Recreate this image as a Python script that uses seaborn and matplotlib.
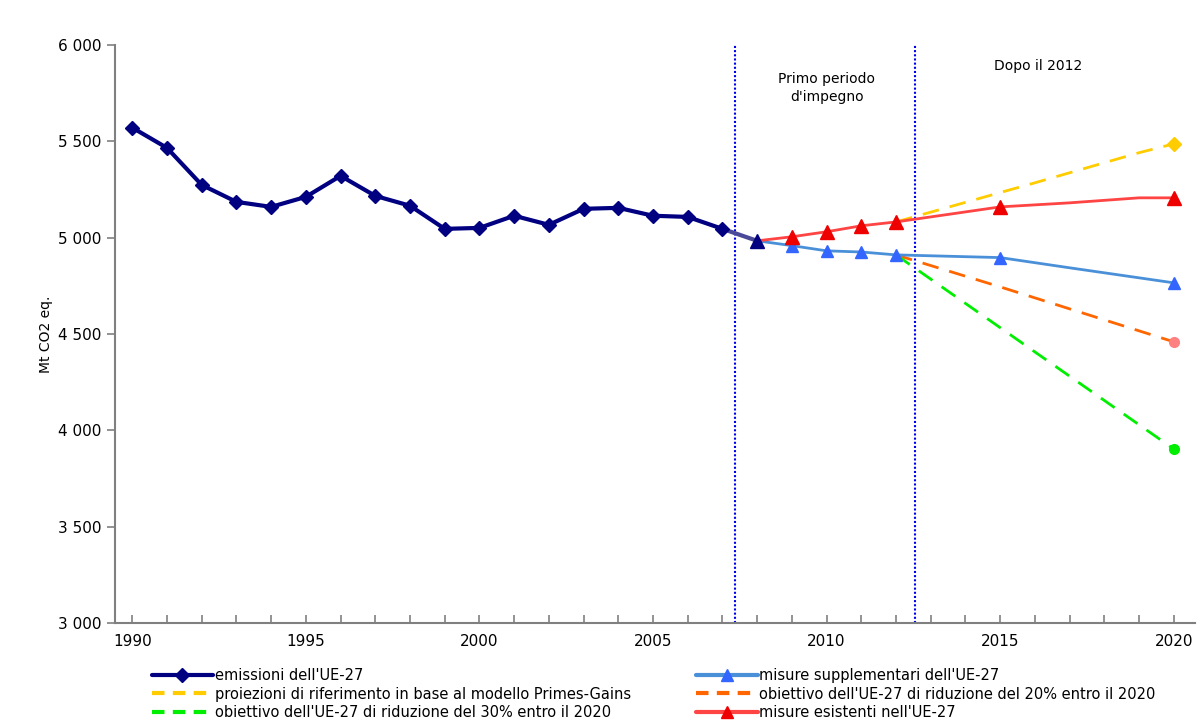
import matplotlib
matplotlib.use("Agg")
import matplotlib.pyplot as plt
import seaborn as sns
import pandas as pd
from matplotlib.lines import Line2D

sns.set_theme(style="white")
plt.rcParams['font.family'] = ['DejaVu Sans']
plt.rcParams['text.color'] = 'black'
plt.rcParams['xtick.color'] = 'black'
plt.rcParams['ytick.color'] = 'black'
plt.rcParams['axes.labelcolor'] = 'black'

years_hist = list(range(1990, 2009))
emissions = [5570, 5465, 5273, 5185, 5159, 5211, 5320, 5216, 5165, 5045, 5050, 5113,
             5066, 5149, 5154, 5113, 5107, 5045, 4983]
years_supp = [2008, 2009, 2010, 2011, 2012, 2015, 2017, 2020]
supp = [4983, 4958, 4931, 4925, 4910, 4896, 4843, 4765]
supp_marked = [2009, 2010, 2011, 2012, 2015, 2020]
years_exist = [2008, 2009, 2010, 2011, 2012, 2015, 2017, 2019, 2020]
exist = [4983, 5004, 5030, 5061, 5081, 5159, 5180, 5206, 5206]
exist_marked = [2009, 2010, 2011, 2012, 2015, 2020]
years_prim = [2012, 2016, 2019, 2020]
prim = [5081, 5284, 5440, 5486]
years_o20 = [2012, 2015, 2020]
o20 = [4910, 4744, 4459]
years_o30 = [2012, 2020]
o30 = [4910, 3903]

fig = plt.figure(figsize=(11.97, 7.22), dpi=100)
ax = fig.add_axes([0.096, 0.137, 0.902, 0.801])

ax.axvline(2007.36, color='#0000ee', ls=(0, (1, 1)), lw=1.5)
ax.axvline(2012.55, color='#0000ee', ls=(0, (1, 1)), lw=1.5)

sns.lineplot(x=years_prim, y=prim, ax=ax, color='#ffcc00', lw=2, ls=(0, (6, 4)))
ax.plot(years_prim[-1:], prim[-1:], marker='D', color='#ffcc00', ms=7, ls='none')
sns.lineplot(x=years_o20, y=o20, ax=ax, color='#ff6600', lw=2, ls=(0, (6, 4)))
ax.plot(years_o20[-1:], o20[-1:], marker='o', color='#ff8080', ms=7, ls='none')
sns.lineplot(x=years_o30, y=o30, ax=ax, color='#00ee00', lw=2, ls=(0, (6, 4)))
ax.plot(years_o30[-1:], o30[-1:], marker='o', color='#00ee00', ms=7, ls='none')

sns.lineplot(x=years_supp, y=supp, ax=ax, color='#4a90d9', lw=2)
df_s = pd.DataFrame({'x': years_supp, 'y': supp})
df_s = df_s[df_s.x.isin(supp_marked)]
ax.plot(df_s.x, df_s.y, marker='^', color='#3366ff', ms=9, ls='none')

sns.lineplot(x=years_exist, y=exist, ax=ax, color='#ff4444', lw=2)
df_e = pd.DataFrame({'x': years_exist, 'y': exist})
df_e = df_e[df_e.x.isin(exist_marked)]
ax.plot(df_e.x, df_e.y, marker='^', color='#ee0000', ms=10, ls='none')

ax.plot(years_hist[-2:], emissions[-2:], color='#4a4a99', lw=3)
ax.plot(years_hist[:-1], emissions[:-1], color='#000080', lw=3, marker='D', ms=7)
ax.plot(years_hist[-1:], emissions[-1:], color='#000080', marker='^', ms=10)

ax.set_xlim(1989.5, 2020.6)
ax.set_ylim(3000, 6000)
ax.set_xticks(range(1990, 2021, 5))
ax.set_xticks(range(1990, 2021), minor=True)
ax.set_yticks(range(3000, 6001, 500))
ax.set_yticklabels([f"{v:,}".replace(",", " ") for v in range(3000, 6001, 500)])
ax.set_ylabel("Mt CO2 eq.", fontsize=10)
for s in ['top', 'right']:
    ax.spines[s].set_visible(False)
for s in ['left', 'bottom']:
    ax.spines[s].set_color('#808080')
    ax.spines[s].set_linewidth(1.5)
ax.tick_params(axis='both', which='both', bottom=True, left=True, colors='black', labelsize=11)
ax.tick_params(axis='x', which='both', direction='in', color='#808080', length=6, width=1.2, pad=8)
ax.tick_params(axis='y', which='major', direction='out', color='#808080', length=6, width=1.2)

ax.text(2010.0, 5860, "Primo periodo\nd'impegno", ha='center', va='top', fontsize=10, linespacing=1.4)
ax.text(2016.1, 5925, "Dopo il 2012", ha='center', va='top', fontsize=10)

h = [Line2D([], [], color='#000080', lw=3, marker='D', ms=7),
     Line2D([], [], color='#ffcc00', lw=3, ls=(0, (3, 2))),
     Line2D([], [], color='#00ee00', lw=3, ls=(0, (3, 2))),
     Line2D([], [], color='#4a90d9', lw=3, marker='^', ms=8, mfc='#3366ff', mec='#3366ff'),
     Line2D([], [], color='#ff6600', lw=3, ls=(0, (3, 2))),
     Line2D([], [], color='#ff4444', lw=3, marker='^', ms=8, mfc='#ee0000', mec='#ee0000')]
labels = ["emissioni dell'UE-27",
          "proiezioni di riferimento in base al modello Primes-Gains",
          "obiettivo dell'UE-27 di riduzione del 30% entro il 2020",
          "misure supplementari dell'UE-27",
          "obiettivo dell'UE-27 di riduzione del 20% entro il 2020",
          "misure esistenti nell'UE-27"]
fig.legend(h, labels, ncol=2, loc='upper left', bbox_to_anchor=(0.122, 0.083),
           frameon=False, fontsize=10.5, handlelength=4.2, handletextpad=0.1,
           columnspacing=4.5, labelspacing=0.25, borderaxespad=0)

fig.savefig("out.png", dpi=100)
